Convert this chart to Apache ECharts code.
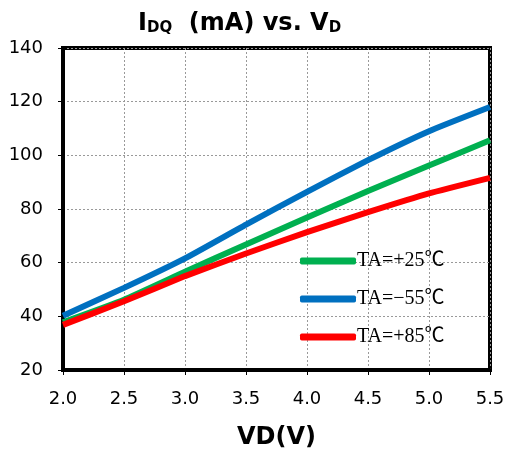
<!DOCTYPE html>
<html>
<head>
<meta charset="utf-8">
<script src="https://cdn.jsdelivr.net/npm/echarts@6/dist/echarts.min.js"></script>
<style>html,body{margin:0;padding:0;background:#fff}#c{width:508px;height:455px}</style>
</head>
<body>
<div id="c"></div>
<script>
const vd = [2.0, 2.5, 3.0, 3.5, 4.0, 4.5, 5.0, 5.5];
const ta25 = [37.8, 46.2, 56.6, 66.8, 76.8, 86.7, 96.2, 105.6];
const taM55 = [40.2, 50.6, 61.6, 74.2, 86.4, 98.2, 109.0, 118.0];
const ta85 = [36.8, 45.6, 55.0, 63.4, 71.4, 78.8, 85.8, 91.6];
const seriesNames = ['TA=+25℃', 'TA=−55℃', 'TA=+85℃'];
const colors = ['#00B050', '#0070C0', '#FF0000'];
const xTicks = {min: 2.0, max: 5.5, interval: 0.5};
const yTicks = {min: 20, max: 140, interval: 20};

const pair = arr => vd.map((x, i) => [x, arr[i]]);
const font = '"DejaVu Sans", Verdana, sans-serif';
const chart = echarts.init(document.getElementById('c'), null, {renderer: 'canvas'});
chart.setOption({
  backgroundColor: '#fff',
  animation: false,
  title: {
    text: '{a|I}{s|DQ}{a|  (mA) vs. V}{s|D}',
    left: 133, top: 1,
    textStyle: {
      rich: {
        a: {fontFamily: font, fontWeight: 'bold', fontSize: 24, color: '#000', verticalAlign: 'bottom', lineHeight: 30},
        s: {fontFamily: font, fontWeight: 'bold', fontSize: 15, color: '#000', verticalAlign: 'bottom', lineHeight: 22}
      }
    }
  },
  grid: {left: 63, right: 18, top: 48, bottom: 84, show: true, borderColor: '#000', borderWidth: 4},
  legend: {
    orient: 'vertical', left: 295, top: 246, itemGap: 18,
    itemWidth: 56, itemHeight: 7, icon: 'roundRect',
    textStyle: {fontFamily: '"Liberation Serif", "Noto Sans CJK SC", serif', fontSize: 20, color: '#000', padding: [0,0,0,-4]},
    data: seriesNames
  },
  xAxis: {
    type: 'value', min: xTicks.min, max: xTicks.max, interval: xTicks.interval,
    name: 'VD(V)', nameLocation: 'middle', nameGap: 56,
    nameTextStyle: {fontFamily: font, fontWeight: 'bold', fontSize: 24, color: '#000'},
    axisLine: {lineStyle: {color: '#000', width: 4}},
    axisTick: {show: true, length: 5, lineStyle: {color: '#000', width: 1}},
    axisLabel: {fontFamily: font, fontSize: 18, color: '#000', margin: 20, formatter: v => v.toFixed(1)},
    splitLine: {show: true, lineStyle: {color: '#999', type: [2, 2], width: 1}}
  },
  yAxis: {
    type: 'value', min: yTicks.min, max: yTicks.max, interval: yTicks.interval,
    axisLine: {show: true, lineStyle: {color: '#000', width: 4}},
    axisTick: {show: true, length: 5, lineStyle: {color: '#000', width: 1}},
    axisLabel: {fontFamily: font, fontSize: 18, color: '#000', margin: 20},
    splitLine: {show: true, lineStyle: {color: '#999', type: [2, 2], width: 1}}
  },
  series: [
    {name: seriesNames[0], type: 'line', data: pair(ta25), color: colors[0], smooth: 0.15, showSymbol: false, lineStyle: {width: 6}, z: 3},
    {name: seriesNames[1], type: 'line', data: pair(taM55), color: colors[1], smooth: 0.15, showSymbol: false, lineStyle: {width: 6}, z: 3},
    {name: seriesNames[2], type: 'line', data: pair(ta85), color: colors[2], smooth: 0.15, showSymbol: false, lineStyle: {width: 6}, z: 4}
  ]
});
</script>
</body>
</html>
